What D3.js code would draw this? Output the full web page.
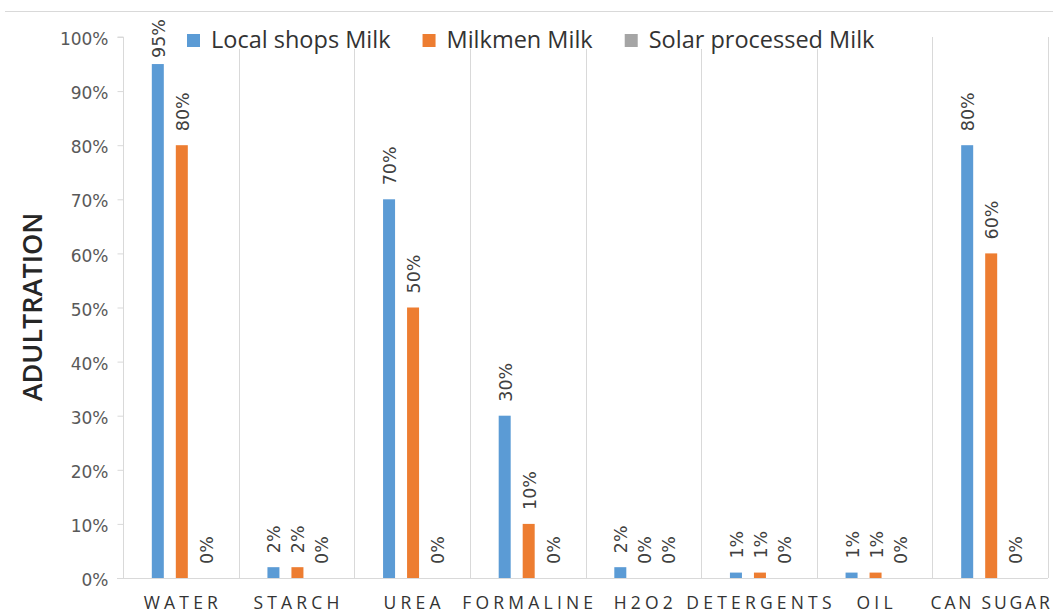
<!DOCTYPE html>
<html>
<head>
<meta charset="utf-8">
<script src="https://cdn.jsdelivr.net/npm/d3@7"></script>
<style>
  html, body { margin: 0; padding: 0; background: #fff; }
  svg { display: block; }
</style>
</head>
<body>
<svg id="chart" width="1053" height="616"></svg>
<script>
// Adulteration test results per adulterant, for three milk sources
const categories = ["WATER", "STARCH", "UREA", "FORMALINE", "H2O2", "DETERGENTS", "OIL", "CAN SUGAR"];
const seriesNames = ["Local shops Milk", "Milkmen Milk", "Solar processed Milk"];
const localShops = [95, 2, 70, 30, 2, 1, 1, 80];
const milkmen = [80, 2, 50, 10, 0, 1, 1, 60];
const solarProcessed = [0, 0, 0, 0, 0, 0, 0, 0];
const yTicks = [0, 10, 20, 30, 40, 50, 60, 70, 80, 90, 100];
const colors = ["#5B9BD5", "#ED7D31", "#A5A5A5"];

const seriesValues = [localShops, milkmen, solarProcessed];
const rows = categories.map((c, i) => ({
  category: c,
  values: seriesNames.map((s, k) => ({ series: s, k, value: seriesValues[k][i] }))
}));

const W = 1053;
const svg = d3.select("#chart");
const plot = { left: 123, right: 1048, top: 37, bottom: 578 };

// outer chart border (top edge)
svg.append("line")
  .attr("x1", 5).attr("x2", W).attr("y1", 11.5).attr("y2", 11.5)
  .attr("stroke", "#d9d9d9").attr("stroke-width", 1);

const x0 = d3.scaleBand().domain(categories).range([plot.left, plot.right]).padding(0);
const cw = x0.bandwidth();
const x1 = d3.scaleBand().domain(seriesNames)
  .range([cw / 2 - 35, cw / 2 + 37]).paddingInner(0.5).paddingOuter(0.25);
const y = d3.scaleLinear().domain([0, 100]).range([plot.bottom, plot.top]);

// category separators (vertical gridlines)
svg.append("g").selectAll("line")
  .data(categories)
  .join("line")
  .attr("x1", d => Math.round(x0(d) + cw) + 0.5)
  .attr("x2", d => Math.round(x0(d) + cw) + 0.5)
  .attr("y1", plot.top).attr("y2", plot.bottom)
  .attr("stroke", "#d9d9d9").attr("stroke-width", 1);

// y axis
const yAxis = d3.axisLeft(y).tickValues(yTicks).tickSize(6).tickPadding(9)
  .tickFormat(d => d + "%");
const gy = svg.append("g").attr("transform", `translate(${plot.left + 0.5},0)`).call(yAxis);
gy.select(".domain").attr("stroke", "#d9d9d9").attr("d", `M-6,${plot.top}H0V${plot.bottom}`);
gy.selectAll(".tick line").attr("stroke", "#d9d9d9");
gy.selectAll(".tick text")
  .attr("font-family", "DejaVu Sans, Verdana, sans-serif")
  .attr("font-size", 17).attr("fill", "#595959").attr("dy", "0.45em");

// x baseline
svg.append("line")
  .attr("x1", plot.left - 6).attr("x2", plot.right)
  .attr("y1", plot.bottom + 0.5).attr("y2", plot.bottom + 0.5)
  .attr("stroke", "#d9d9d9");

// category labels (letter-spaced; tightened where a label would run off the edge)
const xAxis = d3.axisBottom(x0).tickSize(0).tickPadding(0);
const gx = svg.append("g").attr("transform", `translate(0,${plot.bottom})`).call(xAxis);
gx.select(".domain").remove();
gx.selectAll(".tick text")
  .attr("font-family", "Open Sans, sans-serif")
  .attr("font-size", 17.5).attr("fill", "#333333")
  .attr("y", 31).attr("dy", 0)
  .each(function (d) {
    const sel = d3.select(this);
    const cx = x0(d) + cw / 2;
    let ls = 4.2;
    sel.attr("letter-spacing", ls + "px").attr("dx", ls / 2);
    while (ls > 0) {
      const w = this.getComputedTextLength() - ls;
      if (cx + w / 2 <= W - 3) break;
      ls -= 0.2;
      sel.attr("letter-spacing", ls + "px").attr("dx", ls / 2);
    }
  });

// bars
const groups = svg.append("g").selectAll("g")
  .data(rows).join("g")
  .attr("transform", d => `translate(${x0(d.category)},0)`);

groups.selectAll("rect")
  .data(d => d.values).join("rect")
  .attr("x", d => x1(d.series))
  .attr("width", x1.bandwidth())
  .attr("y", d => y(d.value))
  .attr("height", d => y(0) - y(d.value))
  .attr("fill", d => colors[d.k]);

// rotated value labels above each bar
groups.selectAll("text")
  .data(d => d.values).join("text")
  .attr("font-family", "DejaVu Sans, Verdana, sans-serif")
  .attr("font-size", 17.5).attr("fill", "#404040")
  .attr("text-anchor", "start")
  .text(d => d.value + "%")
  .each(function (d) {
    const len = this.getComputedTextLength();
    let bottom = y(d.value) - 14;
    if (bottom - len < 19) bottom = 19 + len;
    const cx = x1(d.series) + x1.bandwidth() / 2 + 1;
    d3.select(this)
      .attr("transform", `translate(${cx + 6},${bottom}) rotate(-90)`);
  });

// y axis title
svg.append("text")
  .attr("transform", "translate(42,307) rotate(-90)")
  .attr("text-anchor", "middle")
  .attr("font-family", "Open Sans, sans-serif")
  .attr("font-weight", 600)
  .attr("font-size", 27).attr("fill", "#262626")
  .text("ADULTRATION");

// legend
const legend = svg.append("g");
legend.append("rect")
  .attr("x", 182).attr("y", 20).attr("width", 708).attr("height", 29)
  .attr("fill", "#fff");
let lx = 187;
seriesNames.forEach((name, k) => {
  legend.append("rect")
    .attr("x", lx).attr("y", 34).attr("width", 13).attr("height", 13)
    .attr("fill", colors[k]);
  const t = legend.append("text")
    .attr("x", lx + 24).attr("y", 47.5)
    .attr("font-family", "Open Sans, sans-serif")
    .attr("font-size", 23.5).attr("fill", "#333333")
    .text(name);
  lx += 24 + t.node().getComputedTextLength() + 32;
});
</script>
</body>
</html>
